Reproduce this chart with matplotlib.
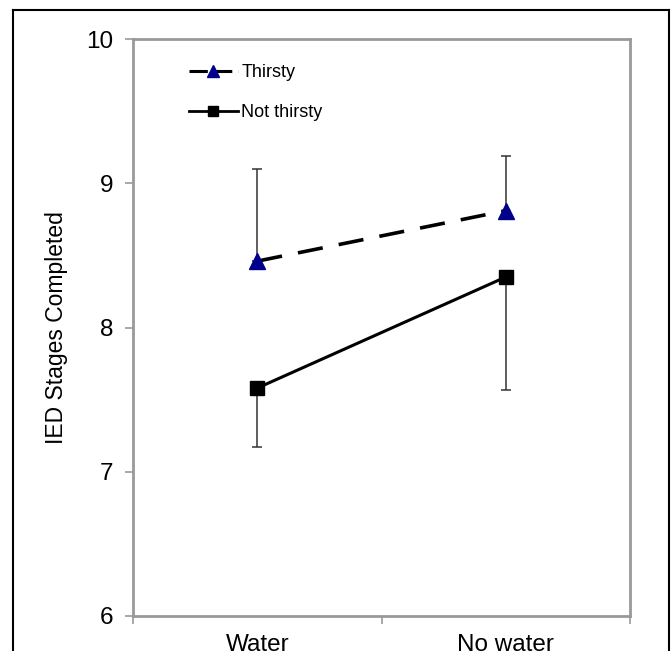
import matplotlib
matplotlib.use('Agg')
import matplotlib.pyplot as plt
from matplotlib.lines import Line2D

plt.rcParams['font.family'] = ['Liberation Sans', 'DejaVu Sans']

categories = ['Water', 'No water']
thirsty = [8.46, 8.81]
thirsty_err = [0.64, 0.38]
not_thirsty = [7.58, 8.35]
not_thirsty_err = [0.41, 0.78]
y_ticks = [6, 7, 8, 9, 10]

fig = plt.figure(figsize=(6.71, 6.51), dpi=100)
ax = fig.add_axes([133 / 671, 1 - 616 / 651, (630 - 133) / 671, (616 - 39) / 651])

xs = [0.5, 1.5]
grey = '#999999'

# error bars, one side only
ax.errorbar(xs, thirsty, yerr=[[0, 0], thirsty_err], fmt='none', ecolor='#333333',
            elinewidth=1.1, capsize=3.5, capthick=1.1, zorder=2)
ax.errorbar(xs, not_thirsty, yerr=[not_thirsty_err, [0, 0]], fmt='none', ecolor='#333333',
            elinewidth=1.1, capsize=3.5, capthick=1.1, zorder=2)

ax.plot(xs, thirsty, color='black', linestyle=(0, (7, 4.5)), linewidth=2.6, zorder=3)
ax.plot(xs, thirsty, linestyle='none', marker='^', markersize=12, color='#00008b',
        markeredgecolor='#00008b', zorder=4)
ax.plot(xs, not_thirsty, color='black', linestyle='-', linewidth=2.2, marker='s',
        markersize=10, zorder=4)

ax.set_xlim(0, 2)
ax.set_ylim(6, 10)
ax.set_yticks(y_ticks)
ax.set_yticklabels([str(t) for t in y_ticks], fontsize=17.5)
ax.set_xticks(xs)
ax.set_xticklabels(categories, fontsize=17.5)
ax.set_xticks([0, 1, 2], minor=True)
ax.tick_params(axis='x', which='major', length=0, pad=13)
ax.tick_params(axis='x', which='minor', length=6, color=grey, width=1.2)
ax.tick_params(axis='y', length=6, color=grey, width=1.2, pad=8)
ax.set_ylabel('IED Stages Completed', fontsize=16.5, labelpad=13)

for s in ax.spines.values():
    s.set_color(grey)
    s.set_linewidth(2)

handles = [
    Line2D([], [], color='black', linestyle=(0, (6, 2)), linewidth=2.2, marker='^',
           markersize=8, markerfacecolor='#00008b', markeredgecolor='#00008b'),
    Line2D([], [], color='black', linestyle='-', linewidth=2, marker='s', markersize=7),
]
ax.legend(handles, ['Thirsty', 'Not thirsty'], loc='upper left', bbox_to_anchor=(0.08, 0.984),
          frameon=False, fontsize=13, labelspacing=1.25, handlelength=2.7, handletextpad=0.2)

# outer frame
fig.add_artist(Line2D([13 / 671, 13 / 671], [0, 1 - 10 / 651], color='black', linewidth=1.5))
fig.add_artist(Line2D([13 / 671, 669 / 671], [1 - 10 / 651, 1 - 10 / 651], color='black', linewidth=1.5))
fig.add_artist(Line2D([669 / 671, 669 / 671], [0, 1 - 10 / 651], color='black', linewidth=1.5))

fig.savefig('out.png', dpi=100)
